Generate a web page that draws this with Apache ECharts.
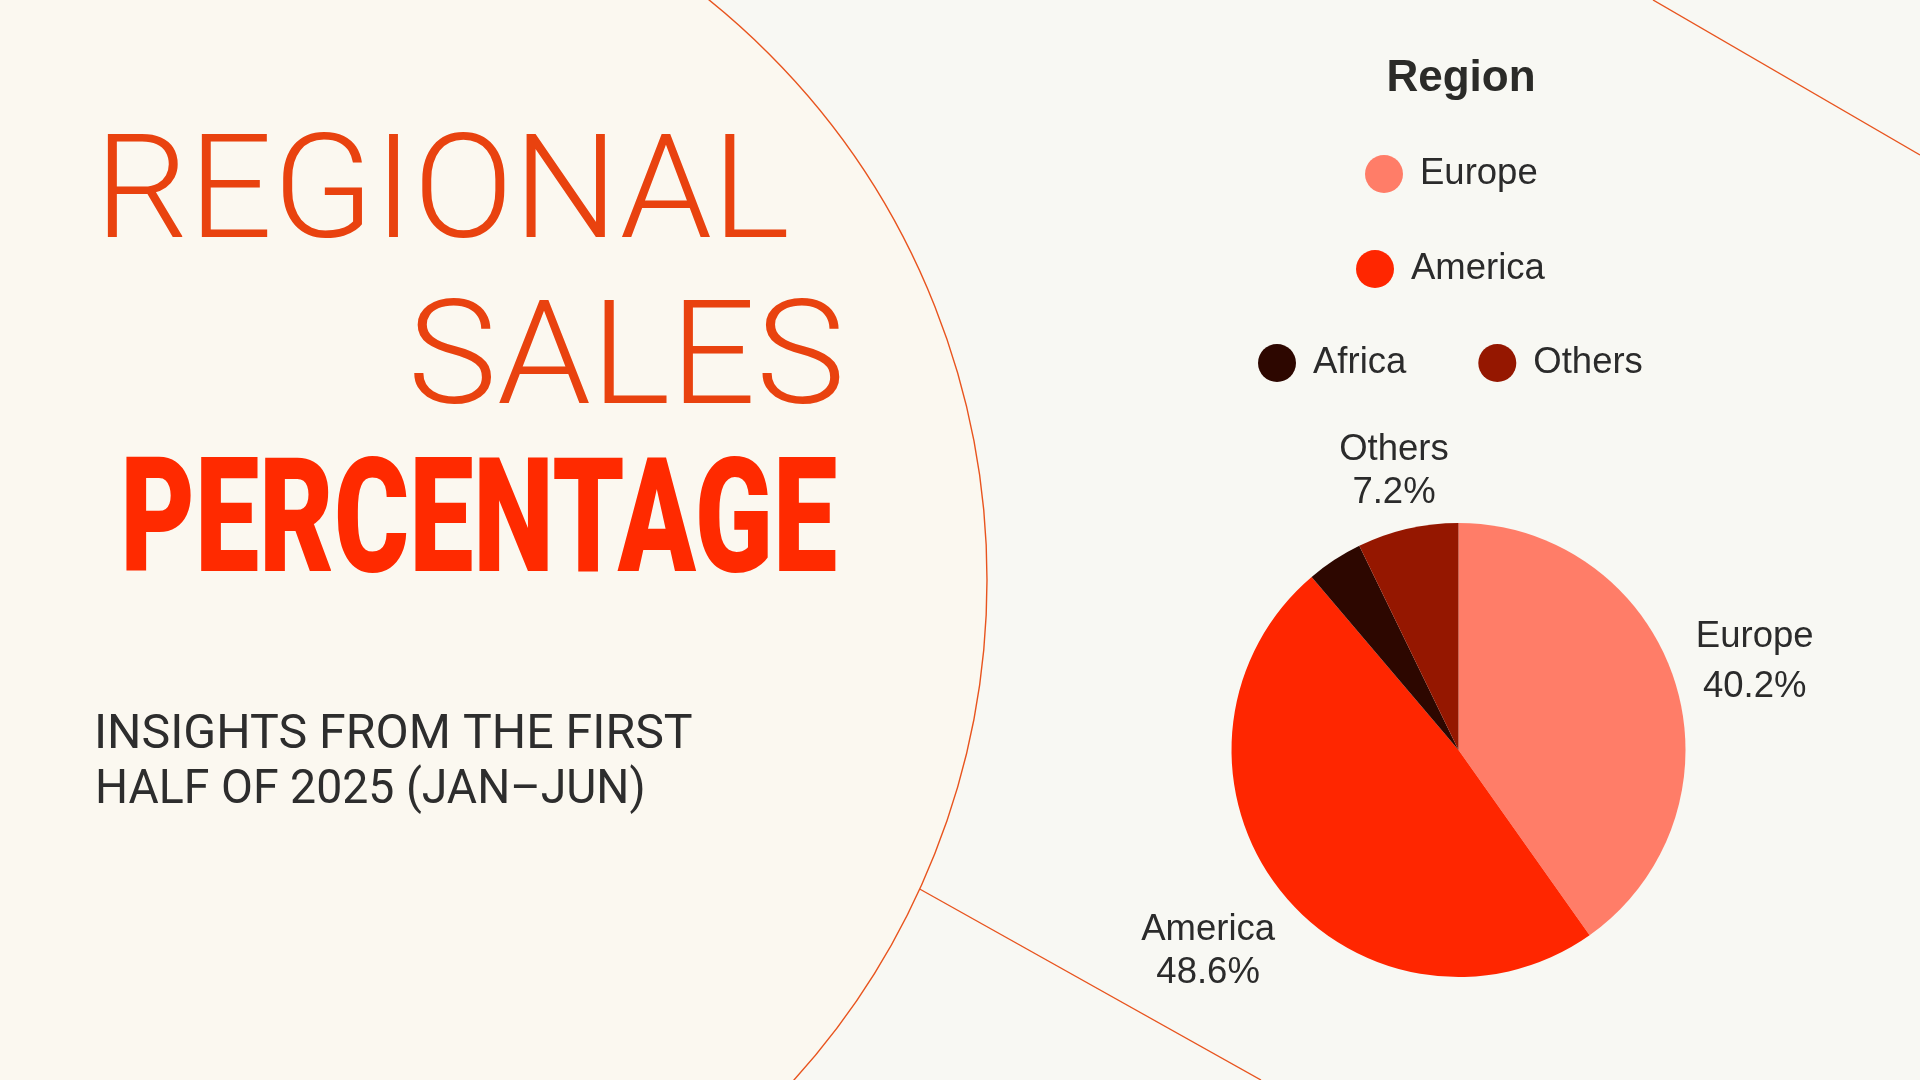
<!DOCTYPE html>
<html>
<head>
<meta charset="utf-8">
<script src="https://cdn.jsdelivr.net/npm/echarts@6/dist/echarts.min.js"></script>
<style>
html,body{margin:0;padding:0;background:#f8f8f3;}
#chart{width:1920px;height:1080px;}
</style>
</head>
<body>
<div id="chart"></div>
<script>
// ---- data ----
const regions = ['Europe', 'America', 'Africa', 'Others'];
const shares = [40.2, 48.6, 4.0, 7.2];
const sliceColors = ['#ff7d68', '#ff2600', '#2d0700', '#951700'];
const labelShown = [true, true, false, true];
const titleLines = ['REGIONAL', 'SALES', 'PERCENTAGE'];
const subtitleLines = ['INSIGHTS FROM THE FIRST', 'HALF OF 2025 (JAN\u2013JUN)'];
const legendTitle = 'Region';
const legendRows = [['Europe'], ['America'], ['Africa', 'Others']];

// ---- helpers ----
const mctx = document.createElement('canvas').getContext('2d');
function fitText(text, size, weight, family, left, right) {
  mctx.font = weight + ' ' + size + 'px ' + family;
  const m = mctx.measureText(text);
  const ink = m.actualBoundingBoxLeft + m.actualBoundingBoxRight;
  const s = (right - left) / ink;
  return { s: s, x: left + m.actualBoundingBoxLeft * s };
}
function textEl(text, size, weight, family, color, fitInfo, y) {
  return {
    type: 'text', z: 10, x: fitInfo.x, y: y, scaleX: fitInfo.s, silent: true,
    style: {
      text: text, fontSize: size, fontWeight: weight, fontFamily: family,
      fill: color, align: 'left', verticalAlign: 'middle'
    }
  };
}

const lightFam = 'Roboto';
const heavyFam = 'Roboto';
const subFam = 'Roboto';
const f1 = fitText(titleLines[0], 144, 300, lightFam, 107, 787);
const f2 = fitText(titleLines[1], 145, 300, lightFam, 414, 840);
const f3 = fitText(titleLines[2], 160, 900, heavyFam, 126, 836);
const f4 = fitText(subtitleLines[0], 48, 400, subFam, 98, 692);
const f5 = fitText(subtitleLines[1], 48, 400, subFam, 98, 643);

const pieCenter = [1458.5, 750];
const pieRadius = 227;

const legendPos = [[1365, 155], [1356, 250], [1258, 344]];

const option = {
  backgroundColor: '#f8f8f3',
  animation: false,
  title: {
    text: legendTitle,
    left: 1461, top: 57, padding: 0,
    textAlign: 'center',
    textStyle: { fontFamily: 'Liberation Sans', fontWeight: 'bold', fontSize: 44, color: '#2b2b28' }
  },
  legend: legendRows.map(function (row, i) {
    return {
      data: row,
      orient: 'horizontal',
      left: legendPos[i][0], top: legendPos[i][1],
      padding: 0,
      itemGap: 72,
      itemWidth: 38, itemHeight: 38,
      icon: 'circle',
      selectedMode: false,
      textStyle: {
        fontFamily: 'Liberation Sans', fontSize: 36.5, color: '#2b2b2b',
        padding: [0, 0, 0, 12]
      }
    };
  }),
  graphic: {
    elements: [
      { type: 'line', z: -20, silent: true,
        shape: { x1: 1653, y1: 0, x2: 1920, y2: 155 },
        style: { stroke: '#e8541e', lineWidth: 1.4 } },
      { type: 'line', z: -20, silent: true,
        shape: { x1: 900, y1: 878, x2: 1261, y2: 1080 },
        style: { stroke: '#e8541e', lineWidth: 1.4 } },
      { type: 'circle', z: -10, silent: true,
        shape: { cx: 243, cy: 580, r: 744 },
        style: { fill: '#fbf8f0', stroke: '#e8541e', lineWidth: 1.4 } },
      textEl(titleLines[0], 144, 300, lightFam, '#e9420f', f1, 201),
      textEl(titleLines[1], 145, 300, lightFam, '#e9420f', f2, 367),
      textEl(titleLines[2], 160, 900, heavyFam, '#ff2a00', f3, 531),
      textEl(subtitleLines[0], 48, 400, subFam, '#2d2d2d', f4, 736),
      textEl(subtitleLines[1], 48, 400, subFam, '#2d2d2d', f5, 791)
    ]
  },
  series: [{
    type: 'pie',
    center: pieCenter,
    radius: pieRadius,
    startAngle: 90,
    clockwise: true,
    avoidLabelOverlap: false,
    percentPrecision: 1,
    emphasis: { scale: false },
    label: {
      show: true,
      position: 'outside',
      formatter: '{b}\n{d}%',
      fontFamily: 'Liberation Sans',
      fontSize: 36.5,
      lineHeight: 43,
      color: '#2b2b2b'
    },
    labelLine: { show: true, length: 10, length2: 0, lineStyle: { width: 0, opacity: 0 } },
    labelLayout: function (p) {
      let ex, ey, ux, uy;
      const pts = p.labelLinePoints;
      if (pts && pts.length >= 2) {
        ex = pts[0][0]; ey = pts[0][1];
        const dx = pts[1][0] - ex, dy = pts[1][1] - ey;
        const len = Math.hypot(dx, dy) || 1;
        ux = dx / len; uy = dy / len;
      } else {
        const total = shares.reduce(function (a, b) { return a + b; }, 0);
        let cum = 0;
        for (let k = 0; k < p.dataIndex; k++) cum += shares[k];
        cum += shares[p.dataIndex] / 2;
        const ang = (90 - 360 * cum / total) * Math.PI / 180;
        ux = Math.cos(ang); uy = -Math.sin(ang);
        ex = pieCenter[0] + pieRadius * ux; ey = pieCenter[1] + pieRadius * uy;
      }
      const w = p.labelRect.width, h = p.labelRect.height;
      const t = Math.min(w / 2 / Math.max(Math.abs(ux), 1e-6), h / 2 / Math.max(Math.abs(uy), 1e-6));
      const d = 21 + t;
      return { x: ex + ux * d + 1, y: ey + uy * d + 6, align: 'center', verticalAlign: 'middle' };
    },
    data: regions.map(function (name, i) {
      return {
        name: name,
        value: shares[i],
        itemStyle: { color: sliceColors[i] },
        label: { show: labelShown[i], lineHeight: i === 0 ? 50 : 43 }
      };
    })
  }]
};

const chart = echarts.init(document.getElementById('chart'), null, { renderer: 'canvas' });
chart.setOption(option);
</script>
</body>
</html>
